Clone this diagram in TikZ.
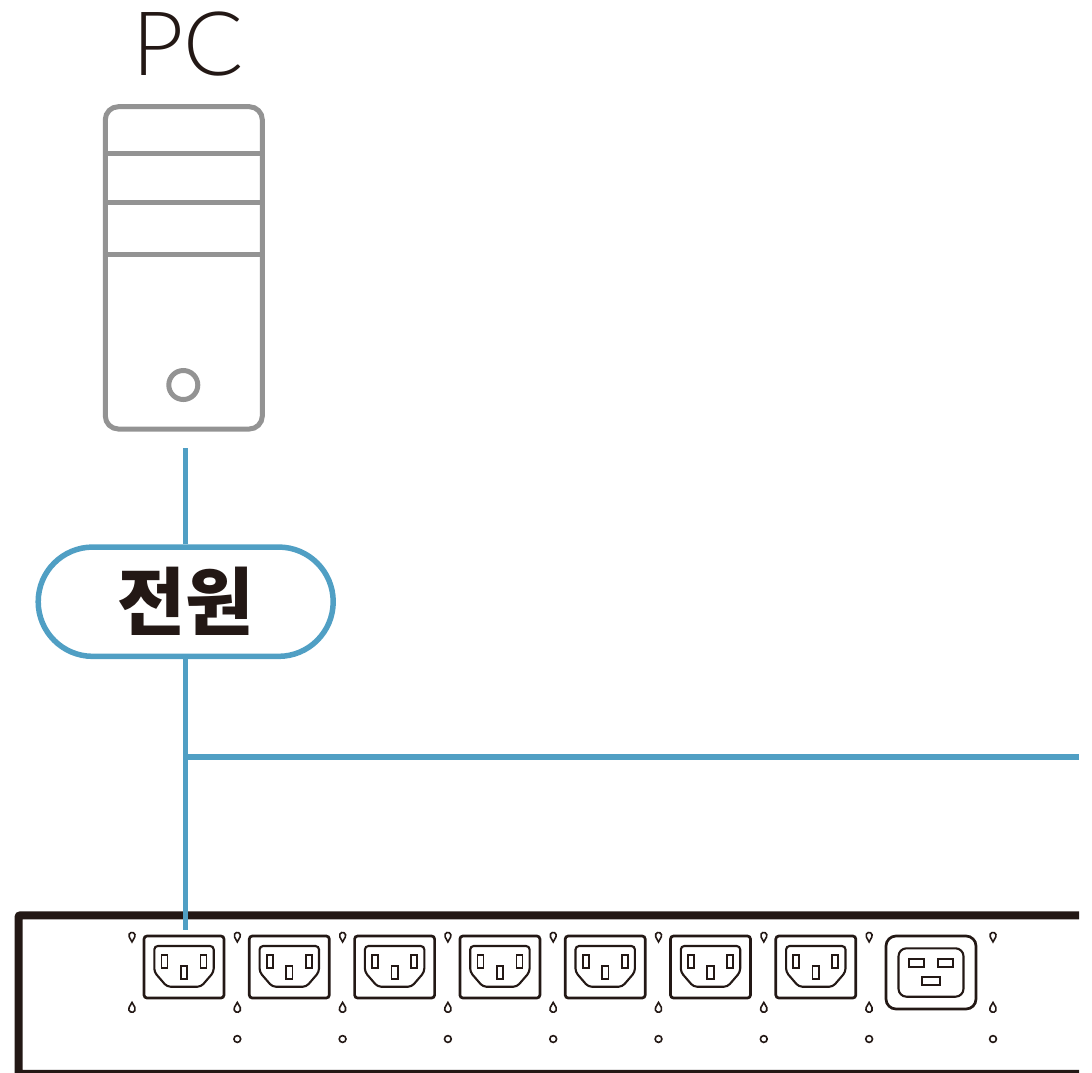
\documentclass[tikz,border=0pt]{standalone}
\usepackage{fontspec}
\newfontfamily\kr{Noto Sans CJK KR}
\IfFontExistsTF{Lato Light}{\newfontfamily\pcfont{Lato Light}}{\newfontfamily\pcfont{Lato}}
\definecolor{wireblue}{RGB}{80,159,196}
\definecolor{towergray}{RGB}{147,147,147}
\definecolor{ink}{RGB}{35,24,21}
\tikzset{
  wire/.style={draw=wireblue,line width=5.5pt},
  tower/.style={draw=towergray,line width=5pt,rounded corners=13pt,minimum width=157pt,minimum height=322.3pt,inner sep=0pt},
  towerline/.style={draw=towergray,line width=5pt},
  pill/.style={draw=wireblue,line width=5.5pt,fill=white,rounded corners=54.6pt,minimum width=295pt,minimum height=109.3pt,inner sep=0pt,text=ink,font={\kr\bfseries\fontsize{74}{74}\selectfont}},
  pcl/.style={text=ink,inner sep=0pt,font={\pcfont\fontsize{89}{89}\selectfont}},
  pdubox/.style={draw=ink,line width=8pt,rounded corners=2pt},
  oline/.style={draw=ink,line width=2.7pt},
  iline/.style={draw=ink,line width=2.1pt},
  pinline/.style={draw=ink,line width=1.7pt},
  markline/.style={draw=ink,line width=1.6pt},
  c13/.pic={
    \draw[oline,rounded corners=3pt] (-40,0) rectangle (40,-62);
    \draw[iline,rounded corners=3.5pt] (-29.7,-10) -- (29.7,-10) -- (29.7,-36) -- (17,-50.7) -- (-17,-50.7) -- (-29.7,-36) -- cycle;
    \draw[pinline] (-22.5,-19) rectangle (-16.5,-31.7);
    \draw[pinline] (16.5,-19) rectangle (22.5,-31.7);
    \draw[pinline] (-3.2,-30) rectangle (3.2,-42.7);
  },
  c19/.pic={
    \draw[oline,rounded corners=10pt] (-45,0) rectangle (45,-73);
    \draw[iline,rounded corners=8pt] (-32.5,-12.3) rectangle (32.5,-60.7);
    \draw[pinline] (-21.7,-23.3) rectangle (-6.7,-30.7);
    \draw[pinline] (6.7,-23.3) rectangle (22.3,-30.7);
    \draw[pinline] (-9.3,-41.3) rectangle (9,-49);
  },
  holetop/.pic={
    \draw[markline] (0,0) ++(-28.4:3.1) arc[start angle=-28.4,end angle=208.4,radius=3.1] -- (0,-6.4) -- cycle;
  },
  holebot/.pic={
    \draw[markline] (0,0) ++(151.6:3.3) arc[start angle=151.6,end angle=388.4,radius=3.3] -- (0,6.6) -- cycle;
  },
  holeround/.pic={
    \draw[markline] (0,0) circle[radius=3.4];
  }
}
\begin{document}
\begin{tikzpicture}[x=1pt,y=1pt]
\useasboundingbox (0,0) rectangle (1092,-1072);

% PC label and tower
\node[pcl,anchor=base] (pclabel) at (188,-75) {PC};
\node[tower] (pc) at (183.8,-267.85) {};
\draw[towerline] (105.3,-153.7) -- (262.3,-153.7);
\draw[towerline] (105.3,-202.7) -- (262.3,-202.7);
\draw[towerline] (105.3,-254.3) -- (262.3,-254.3);
\draw[towerline] (183.3,-385) circle[radius=14.5];

% PDU body (clipped at right and bottom)
\begin{scope}
  \clip (0,0) rectangle (1079,-1072);
  \node[pdubox,anchor=north west,minimum width=1110pt,minimum height=158.5pt,inner sep=0pt] (pdu) at (14.5,-911.3) {};
\end{scope}

% outlets
\foreach \i in {0,...,6}{
  \pgfmathsetmacro{\cx}{184+105.3*\i}
  \pic (out\i) at (\cx,-936) {c13};
}
\pic (out7) at (931,-936) {c19};

% mounting marks
\foreach \mx in {132,237.3,342.6,447.9,553.2,658.5,763.8,869.1,993}{
  \pic at (\mx,-935.5) {holetop};
  \pic at (\mx,-1009) {holebot};
}
\foreach \mx in {237.3,342.6,447.9,553.2,658.5,763.8,869.1,993}{
  \pic at (\mx,-1039) {holeround};
}

% power label
\node[pill] (pw) at (185.7,-601.7) {전원};

% wires
\coordinate (pcout) at (185.7,-448);
\coordinate (plug) at (185.7,-930);
\coordinate (jn) at (185.7,-757);
\coordinate (east) at (1079,-757);
\draw[wire] (pcout) -- (pw.north);
\draw[wire] (pw.south) -- (plug);
\draw[wire] (jn) -- (east);
\end{tikzpicture}
\end{document}
